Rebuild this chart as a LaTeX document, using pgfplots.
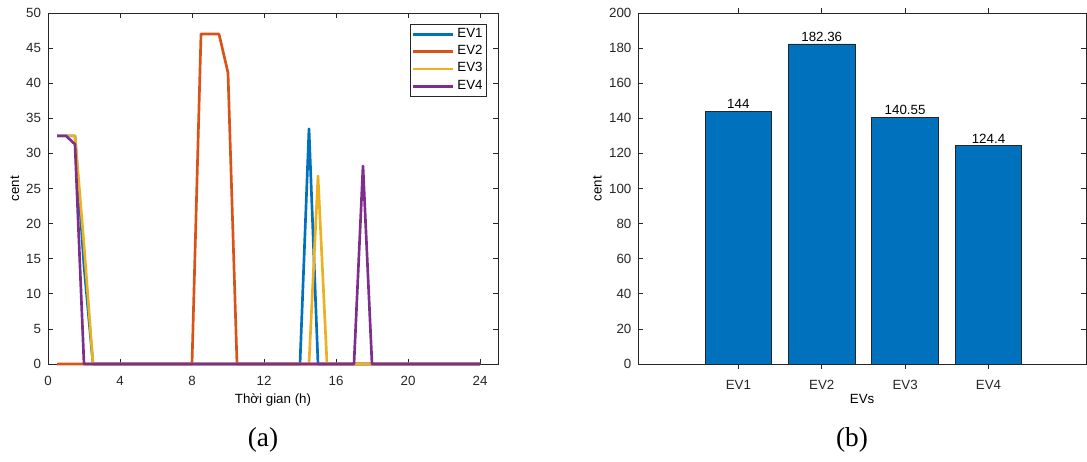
\documentclass[border=0pt]{standalone}
\usepackage{fontspec}
\setmainfont{Liberation Sans}
\newfontfamily\capfont{Liberation Serif}
\usepackage{pgfplots}
\pgfplotsset{compat=1.18}

\definecolor{cEVa}{rgb}{0,0.447,0.741}
\definecolor{cEVb}{rgb}{0.85,0.325,0.098}
\definecolor{cEVc}{rgb}{0.929,0.694,0.125}
\definecolor{cEVd}{rgb}{0.494,0.184,0.556}
\definecolor{axgray}{rgb}{0.15,0.15,0.15}

\pgfplotsset{
  mstyle/.style={
    scale only axis,
    axis line style={draw=axgray, line width=0.6pt},
    tick style={draw=axgray, line width=0.6pt},
    tick align=inside,
    major tick length=3.5pt,
    xtick pos=both, ytick pos=both,
    ticklabel style={font=\fontsize{10}{11}\selectfont, text=axgray},
    xticklabel style={anchor=base, yshift=-15.75pt},
    yticklabel style={xshift=-1.7pt},
    label style={font=\fontsize{11.4}{12}\selectfont, text=axgray},
    /pgf/number format/assume math mode=true,
    every axis x label/.style={at={([yshift=-29.25pt]axis description cs:0.5,0)}, anchor=base},
  },
}

\begin{document}
\begin{tikzpicture}
\useasboundingbox (0,0) rectangle (815.25pt,345.75pt);

% (a) charging cost per time slot
\begin{axis}[mstyle,
  at={(36pt,72.75pt)}, anchor=south west,
  width=337.5pt, height=263.25pt,
  xmin=0, xmax=25, ymin=0, ymax=50,
  xtick={0,4,...,24}, ytick={0,5,...,50},
  xlabel={Thời gian (h)}, ylabel={cent},
  every axis y label/.style={at={([xshift=-24.75pt]axis description cs:0,0.5)}, rotate=90, anchor=center},
  clip=false,
  every axis plot/.append style={line width=2pt, line join=round},
  legend image code/.code={\draw[#1, line width=2pt] (0pt,0pt) -- (30pt,0pt);},
  legend style={at={(0.9756,0.9687)}, anchor=north east, draw=axgray, line width=0.6pt,
    font=\fontsize{10}{11}\selectfont, inner xsep=1pt, inner ysep=1pt,
    nodes={inner xsep=2pt, inner ysep=3pt, text height=5.6pt, text depth=1.4pt}},
]
\addplot[cEVa] coordinates {(0.5,32.5)(1,32.5)(1.5,32.5)(2,14)(2.5,0)(14,0)(14.5,33.5)(15,0)(24,0)};
\addplot[cEVb] coordinates {(0.5,0)(8,0)(8.5,47)(9,47)(9.5,47)(10,41.5)(10.5,0)(24,0)};
\addplot[cEVc] coordinates {(0.5,32.5)(1,32.5)(1.5,32.5)(2,17)(2.5,0)(14.5,0)(15,26.8)(15.5,0)(24,0)};
\addplot[cEVd] coordinates {(0.5,32.5)(1,32.5)(1.5,31.3)(2,0)(17,0)(17.5,28.2)(18,0)(24,0)};
\legend{EV1,EV2,EV3,EV4}
\end{axis}

% (b) total cost per EV
\begin{axis}[mstyle,
  at={(478.725pt,72.75pt)}, anchor=south west,
  width=335.8pt, height=263.25pt,
  xmin=-0.2, xmax=5.17, ymin=0, ymax=200,
  xtick={1,2,3,4}, xticklabels={EV1,EV2,EV3,EV4},
  ytick={0,20,...,200},
  xlabel={EVs}, ylabel={cent},
  every axis y label/.style={at={([xshift=-30.75pt]axis description cs:0,0.5)}, rotate=90, anchor=center},
  ybar, bar width=0.8,
  nodes near coords,
  every node near coord/.append style={anchor=base, yshift=2pt, font=\fontsize{10}{11}\selectfont, text=black},
]
\addplot[fill=cEVa, draw=black!85, line width=0.6pt] coordinates {(1,144)(2,182.36)(3,140.55)(4,124.4)};
\end{axis}

\node[font=\capfont\fontsize{20.5}{24}\selectfont] at (197.25pt,15.75pt) {(a)};
\node[font=\capfont\fontsize{20.5}{24}\selectfont] at (639pt,15.75pt) {(b)};
\end{tikzpicture}
\end{document}
